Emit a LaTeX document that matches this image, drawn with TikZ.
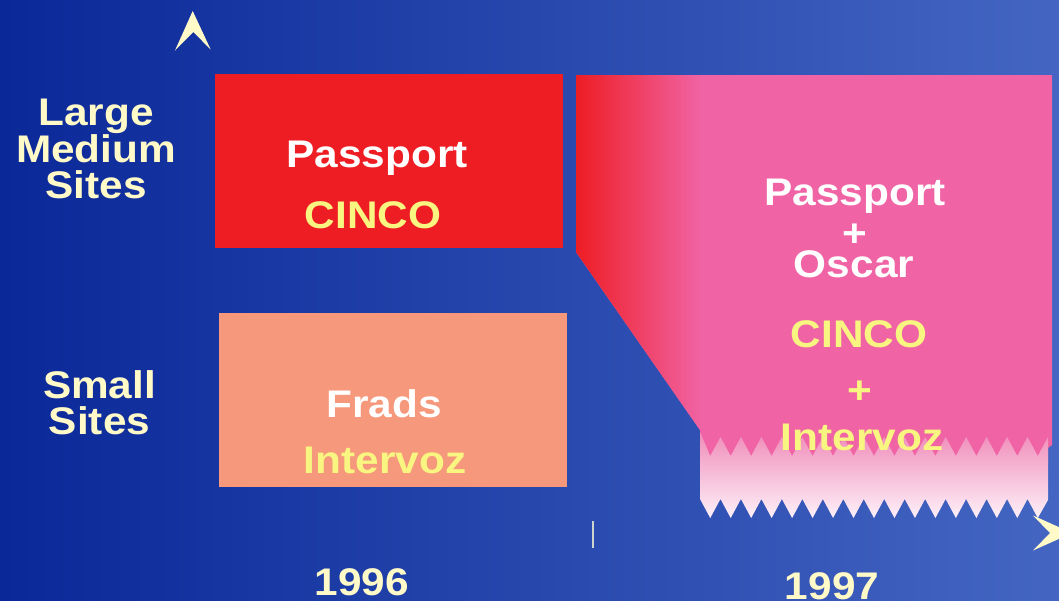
\documentclass[tikz,border=0pt]{standalone}
\usepackage{fontspec}
\setmainfont{Liberation Sans}[FakeStretch=1.1]
\definecolor{bgleft}{RGB}{10,40,152}
\definecolor{bgright}{RGB}{68,102,194}
\definecolor{boxred}{RGB}{238,29,36}
\definecolor{salmon}{RGB}{246,152,124}
\definecolor{pinkmain}{RGB}{240,100,165}
\definecolor{bandtop}{RGB}{240,140,185}
\definecolor{bandbot}{RGB}{253,240,248}
\definecolor{cream}{RGB}{255,250,200}
\definecolor{yel}{RGB}{248,245,128}
\tikzset{
  lbl/.style={font=\fontsize{38.5}{36}\selectfont\bfseries, inner sep=0pt, anchor=base},
  creamtxt/.style={lbl, text=cream},
  whitetxt/.style={lbl, text=white},
  yeltxt/.style={lbl, text=yel},
}
\begin{document}
\begin{tikzpicture}[x=1pt,y=-1pt]
\useasboundingbox (0,0) rectangle (1059,600);
\clip (0,0) rectangle (1059,600);
% background
\shade[left color=bgleft, right color=bgright] (0,0) rectangle (1059,600);
% boxes
\fill[boxred] (215,74) rectangle (563,248);
\fill[salmon] (219,313) rectangle (567,487);
% pink shape
\fill[pinkmain] (576,75) -- (1052,75) -- (1052,445) -- (1048,448) -- (1048,462) -- (700,462) -- (700,430) -- (576,252) -- cycle;
\begin{scope}
  \clip (576,75) -- (1052,75) -- (1052,462) -- (700,462) -- (700,430) -- (576,252) -- cycle;
  \shade[left color=boxred, right color=pinkmain] (576,70) rectangle (702,470);
\end{scope}
% lower band with zigzag edges
\shade[top color=bandtop, bottom color=bandbot]
  (700,432)
  \foreach \i in {0,...,16} { -- ({700+20.47*(\i+0.5)},456) -- ({700+20.47*(\i+1)},437) }
  -- (1048,500)
  \foreach \i in {16,15,...,0} { -- ({700+20.47*(\i+0.5)},518) -- ({700+20.47*\i},499) }
  -- cycle;
% axes arrows
\fill[cream] (192.7,11) -- (210.7,49.5) -- (193.3,32) -- (175,50.5) -- cycle;
\fill[cream] (1072,533) -- (1033,550.5) -- (1050,533) -- (1033,515.5) -- cycle;
\draw[line width=1.5pt, color={rgb,255:red,205;green,212;blue,205}] (593,521) -- (593,548);
% left labels
\node[creamtxt] (large)  at (96,125) {Large};
\node[creamtxt] (medium) at (96,162) {Medium};
\node[creamtxt] (sites1) at (96,198) {Sites};
\node[creamtxt] (small)  at (99.5,398) {Small};
\node[creamtxt] (sites2) at (99.5,434) {Sites};
% box texts
\node[whitetxt] (pass1)  at (377,167) {Passport};
\node[yeltxt]   (cinco1) at (373,228) {CINCO};
\node[whitetxt] (frads)  at (384,417) {Frads};
\node[yeltxt]   (inter1) at (385,473) {Intervoz};
% pink texts
\node[whitetxt] (pass2)  at (855,205) {Passport};
\node[whitetxt] (plus1)  at (855,246) {+};
\node[whitetxt] (oscar)  at (854,277) {Oscar};
\node[yeltxt]   (cinco2) at (859,347) {CINCO};
\node[yeltxt]   (plus2)  at (860,403) {+};
\node[yeltxt]   (inter2) at (862,450) {Intervoz};
% years
\node[creamtxt] (y1996) at (362,595) {1996};
\node[creamtxt] (y1997) at (832,599) {1997};
\end{tikzpicture}
\end{document}
